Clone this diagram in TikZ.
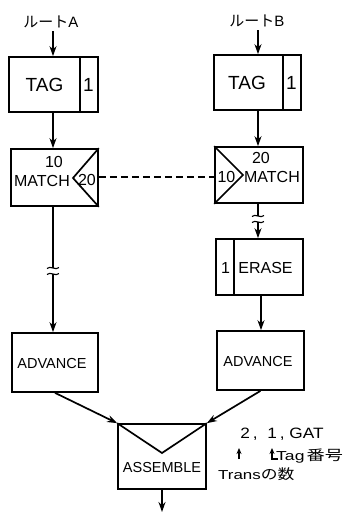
\documentclass[tikz,border=0pt]{standalone}
\usepackage{fontspec}
\setmainfont{Liberation Sans}
\newfontfamily\jp{Noto Sans CJK JP}
\usetikzlibrary{arrows.meta}
\begin{document}
\begin{tikzpicture}[x=1pt,y=-1pt,
  box/.style={draw,line width=1.7pt,inner sep=0pt},
  txt/.style={inner sep=0pt,font=\fontsize{16}{16}\selectfont},
  big/.style={inner sep=0pt,font=\fontsize{19}{19}\selectfont},
  lbl/.style={inner sep=0pt,font=\fontsize{15}{15}\selectfont},
  conn/.style={line width=1.7pt,-{Stealth[length=10pt,width=7pt]}},
  plain/.style={line width=1.7pt},
  brk/.style={line width=1.1pt},
  small/.style={line width=1.3pt,-{Stealth[length=6pt,width=5pt]}}]
\useasboundingbox (0,0) rectangle (349,512);
% route labels
\node[lbl] (la) at (51,22) {{\jp ルート}A};
\node[lbl] (lb) at (257,21) {{\jp ルート}B};
% TAG boxes
\node[box,minimum width=89pt,minimum height=55pt] (tagA) at (53.5,84.5) {};
\draw[plain] ([xshift=-19pt]tagA.north east) -- ([xshift=-19pt]tagA.south east);
\node[big] (tagAt) at (44.5,85) {TAG};
\node[big] (tagAn) at (88.5,85) {1};
\node[box,minimum width=87pt,minimum height=55pt] (tagB) at (257.5,82.5) {};
\draw[plain] ([xshift=-19pt]tagB.north east) -- ([xshift=-19pt]tagB.south east);
\node[big] (tagBt) at (247,83) {TAG};
\node[big] (tagBn) at (291.5,83) {1};
% entry arrows
\coordinate (inA) at (53,31);
\coordinate (inB) at (258,30);
\draw[conn] (inA) -- (tagA.north-|inA);
\draw[conn] (inB) -- (tagB.north-|inB);
% MATCH A
\node[box,minimum width=87pt,minimum height=57pt] (mA) at (54.5,177.5) {};
\coordinate (mAtip) at (73,178);
\draw[plain,line join=miter] (mA.north east) -- (mAtip) -- (mA.south east);
\node[txt] (mA10) at (54,162) {10};
\node[txt] (mAm) at (42,181) {MATCH};
\node[txt] (mA20) at (87,180) {20};
% MATCH B
\node[box,minimum width=88pt,minimum height=56pt] (mB) at (259,175) {};
\coordinate (mBtip) at (243,175);
\draw[plain,line join=miter] (mB.north west) -- (mBtip) -- (mB.south west);
\node[txt] (mB10) at (226.5,177) {10};
\node[txt] (mB20) at (261,158) {20};
\node[txt] (mBm) at (272,177) {MATCH};
% dashed link
\draw[line width=1.2pt,dash pattern=on 7pt off 4pt] (mA.east|-0,177) -- (mB.west|-0,177);
% tag to match
\draw[conn] (tagA.south-|53,0) -- (mA.north-|53,0);
\draw[conn] (tagB.south-|258,0) -- (mB.north-|258,0);
% ERASE
\node[box,minimum width=87pt,minimum height=56pt] (er) at (259.5,267) {};
\draw[plain] ([xshift=19pt]er.north west) -- ([xshift=19pt]er.south west);
\node[txt] (ern) at (225.5,268) {1};
\node[txt] (ert) at (265.5,268) {ERASE};
% ADVANCE
\node[box,minimum width=86pt,minimum height=59pt] (advA) at (55,362.5) {};
\node[txt,font=\fontsize{14.5}{14.5}\selectfont] (advAt) at (52,364) {ADVANCE};
\node[box,minimum width=87pt,minimum height=59pt] (advB) at (260.5,360.5) {};
\node[txt,font=\fontsize{14.5}{14.5}\selectfont] (advBt) at (258,362) {ADVANCE};
% left broken link
\coordinate (bA1) at (53,268);
\coordinate (bA2) at (53,274);
\draw[plain] (mA.south-|53,0) -- (bA1);
\draw[conn] (bA2) -- (advA.north-|53,0);
\draw[brk] (47,268.5) .. controls (50,265) and (56,271) .. (59,267.5);
\draw[brk] (47,274.5) .. controls (50,271) and (56,277) .. (59,273.5);
% right broken link
\coordinate (bB1) at (258,216);
\coordinate (bB2) at (258,222);
\draw[plain] (mB.south-|258,0) -- (bB1);
\draw[conn] (bB2) -- (er.north-|258,0);
\draw[brk] (252,216.5) .. controls (255,213) and (261,219) .. (264,215.5);
\draw[brk] (252,222.5) .. controls (255,219) and (261,225) .. (264,221.5);
% erase to advance
\draw[conn] (er.south-|261,0) -- (advB.north-|261,0);
% ASSEMBLE
\node[box,minimum width=88pt,minimum height=65pt] (as) at (162,456.5) {};
\coordinate (asv) at (162,453);
\draw[plain,line join=miter] (as.north west) -- (asv) -- (as.north east);
\node[txt,font=\fontsize{14.5}{14.5}\selectfont] (ast) at (162,468) {ASSEMBLE};
\draw[conn] (advA.south) -- (as.north west);
\draw[conn] (advB.south) -- (as.north east);
\coordinate (out) at (162,512);
\draw[conn] (as.south) -- (out);
% annotation
\node[inner sep=0pt,font=\fontsize{15}{15}\selectfont] (ann) at (282,434.5) {\scalebox{1.15}[1]{2\,,\ \ 1\,,\ GAT}};
\coordinate (a1b) at (239,459);
\coordinate (a1t) at (239,448);
\draw[small] (a1b) -- (a1t);
\coordinate (a2b) at (272,459);
\coordinate (a2t) at (272,448);
\coordinate (a2r) at (278,459);
\draw[small] (a2r) -- (a2b) -- (a2t);
\node[inner sep=0pt,anchor=west,font=\fontsize{13}{13}\selectfont] (tagno) at (276,456) {\scalebox{1.35}[1]{Tag}\,{\jp\fontsize{14}{14}\selectfont\scalebox{1.3}[1]{番号}}};
\node[inner sep=0pt,anchor=west,font=\fontsize{13}{13}\selectfont] (trans) at (218,474) {\scalebox{1.3}[1]{Trans}{\jp\fontsize{14}{14}\selectfont\scalebox{1.2}[1]{の数}}};
\end{tikzpicture}
\end{document}
